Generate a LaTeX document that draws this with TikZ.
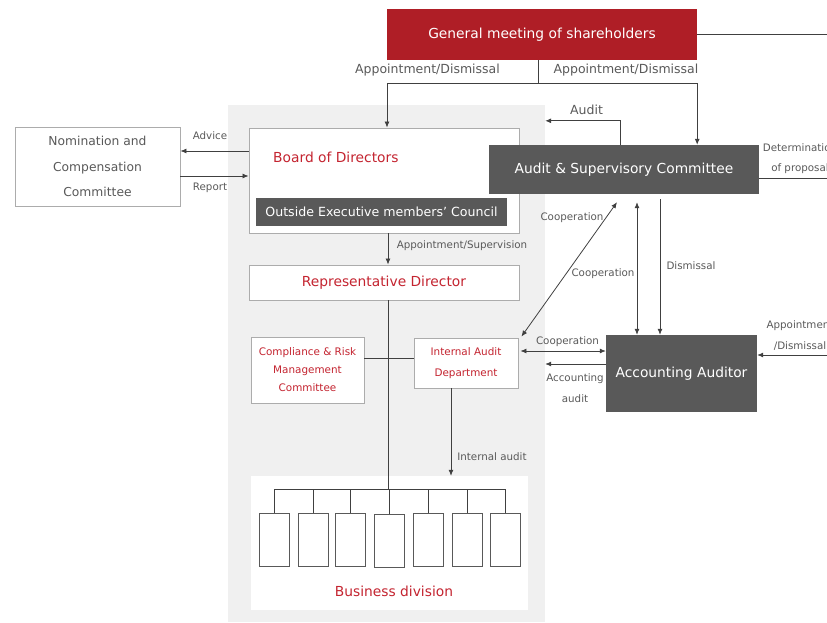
\documentclass[tikz,border=0pt]{standalone}
\usepackage{fontspec}
\setmainfont{DejaVu Sans}
\usetikzlibrary{arrows.meta,calc}
\definecolor{ShareRed}{RGB}{175,30,38}
\definecolor{TextRed}{RGB}{196,36,48}
\definecolor{DarkGray}{RGB}{89,89,89}
\definecolor{LineGray}{RGB}{64,64,64}
\definecolor{PanelGray}{RGB}{240,240,240}
\definecolor{FrameGray}{RGB}{172,172,172}

\begin{document}
\begin{tikzpicture}[x=1pt,y=-1pt,
 bigtxt/.style={font=\fontsize{13.8}{16}\selectfont},
 box/.style={draw=FrameGray,fill=white,inner sep=0pt,line width=.9pt},
 darkbox/.style={fill=DarkGray,text=white,inner sep=0pt,bigtxt},
 lbl/.style={text=DarkGray,inner sep=0pt,align=center,font=\fontsize{10.3}{20.5}\selectfont},
 biglbl/.style={text=DarkGray,inner sep=0pt,font=\fontsize{12.5}{15}\selectfont},
 ln/.style={LineGray,line width=.8pt},
 arr/.style={ln,-{Latex[length=6pt,width=5pt]}},
 arrtwo/.style={ln,{Latex[length=6pt,width=5pt]}-{Latex[length=6pt,width=5pt]}},
 unit/.style={draw=DarkGray,fill=white,line width=1pt,minimum width=30,minimum height=53,inner sep=0pt}]
\useasboundingbox (0,0) rectangle (827,622);
\clip (0,0) rectangle (827,622);
\coordinate (gmr) at (827,34.5);
\coordinate (detr) at (827,178);
\coordinate (appr) at (827,355);
\coordinate (top) at (388,489);
% background of the executive side
\node[fill=PanelGray,minimum width=317,minimum height=517,inner sep=0pt] (panel) at (386.5,363.5) {};
\node[fill=ShareRed,text=white,minimum width=310,minimum height=51,inner sep=0pt,bigtxt] (gm) at (542,34.5) {General meeting of shareholders};
\node[box,minimum width=165,minimum height=79,text=DarkGray,align=center,font=\fontsize{12.3}{25.5}\selectfont] (ncc) at (97.5,166.5) {Nomination and\\Compensation\\Committee};
\node[box,minimum width=270,minimum height=105] (bod) at (384,180.5) {};
\node[text=TextRed,anchor=west,inner sep=0pt,bigtxt] (bodtxt) at (273,157) {Board of Directors};
\node[darkbox,minimum width=251,minimum height=28,font=\fontsize{12.6}{15}\selectfont] (oemc) at (381.5,212) {Outside Executive members’ Council};
\node[darkbox,minimum width=270,minimum height=49] (asc) at (624,169.5) {Audit \& Supervisory Committee};
\node[box,minimum width=270,minimum height=35,text=TextRed,bigtxt] (rep) at (384,282.5) {Representative Director};
\node[box,minimum width=113,minimum height=66,text=TextRed,align=center,font=\fontsize{10.4}{18}\selectfont] (crm) at (307.5,370) {Compliance \& Risk\\Management\\Committee};
\node[box,minimum width=104,minimum height=50,text=TextRed,align=center,font=\fontsize{10.4}{21}\selectfont] (iad) at (466,363) {Internal Audit\\Department};
\node[darkbox,minimum width=151,minimum height=77] (aa) at (681.5,373.5) {Accounting Auditor};
\node[fill=white,minimum width=277,minimum height=134,inner sep=0pt] (bd) at (389.5,543) {};
\node[text=TextRed,inner sep=0pt,bigtxt] (bdtxt) at (394,591) {Business division};
\foreach \i/\x/\y in {1/274/539.5,2/313/539.5,3/350/539.5,4/389/541,5/428/539.5,6/467/539.5,7/505.5/539.5}{
\node[unit] (u\i) at (\x,\y) {};}

% shareholders
\draw[ln] (gm.east) -- (gmr);
\draw[ln] ([xshift=-4pt]gm.south) -- ++(0,23) coordinate (split);
\draw[arr] (split) -| ([xshift=3pt]bod.north);
\draw[arr] (split) -| (gm.east |- asc.north);
\node[biglbl] at (427.5,70) {Appointment/Dismissal};
\node[biglbl] at (626,70) {Appointment/Dismissal};
\draw[arr] ([xshift=-4pt]asc.north) |- ($(panel.north east)+(0,16)$);
\node[biglbl] at (586.5,110) {Audit};
\draw[ln] (asc.east |- 0,178) -- (detr);
\node[lbl] at (800,158.5) {Determination\\of proposal};
% nomination committee
\draw[arr] (bod.west |- 0,151) -- (ncc.east |- 0,151);
\draw[arr] (ncc.east |- 0,176) -- (bod.west |- 0,176);
\node[lbl] at (210,136) {Advice};
\node[lbl] at (210,188) {Report};
% executive line
\draw[arr] ([xshift=4pt]bod.south) -- ([xshift=4pt]rep.north);
\node[lbl] at (462,246) {Appointment/Supervision};
\draw[ln] ([xshift=4pt]rep.south) -- (top);
\draw[ln] (crm.east |- 0,358) -- (iad.west |- 0,358);
\draw[arr] (iad.south -| 451,0) -- (bd.north -| 451,0);
\node[lbl] at (492,457) {Internal audit};
\draw[ln] (u1.north |- top) -- (u7.north |- top);
\foreach \i in {1,...,7}{\draw[ln] (u\i.north) -- (u\i.north |- top);}
% audit side
\draw[arrtwo] ($(iad.north east)+(3,-1)$) -- ($(asc.south)+(-7,8)$);
\node[lbl] at (572,218) {Cooperation};
\draw[arrtwo] ($(asc.south -| 637,0)+(0,8)$) -- (aa.north -| 637,0);
\node[lbl] at (603,274) {Cooperation};
\draw[arr] ($(asc.south -| 660,0)+(0,5)$) -- (aa.north -| 660,0);
\node[lbl] at (691,266) {Dismissal};
\draw[arrtwo] ($(iad.east |- 0,351)+(2,0)$) -- (aa.west |- 0,351);
\node[lbl] at (567.5,342) {Cooperation};
\draw[arr] (aa.west |- 0,364) -- (panel.east |- 0,364);
\node[lbl] at (575,388) {Accounting\\audit};
\draw[arr] (appr) -- (aa.east |- 0,355);
\node[lbl] at (800,335.5) {Appointment\\/Dismissal};
\end{tikzpicture}
\end{document}
